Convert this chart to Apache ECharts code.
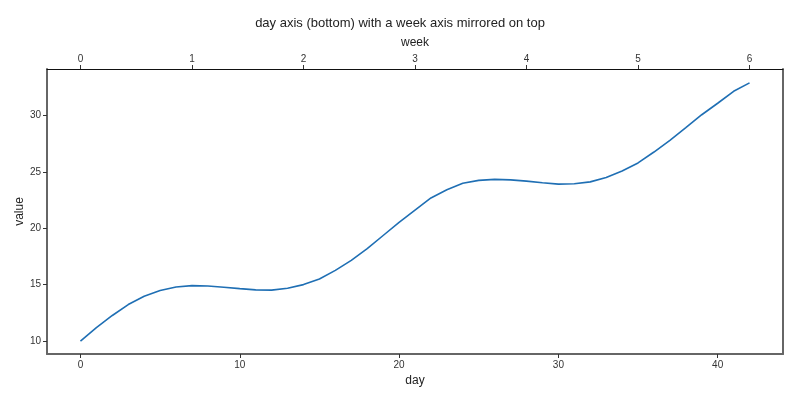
<!DOCTYPE html>
<html>
<head>
<meta charset="utf-8">
<script src="https://cdn.jsdelivr.net/npm/echarts@6/dist/echarts.min.js"></script>
<style>
  html, body { margin: 0; padding: 0; background: #fff; }
  #chart { width: 800px; height: 400px; }
</style>
</head>
<body>
<div id="chart"></div>
<script>
// values, one per day (0..42)
var days = [];
for (var i = 0; i <= 42; i++) days.push(i);
var values = [
  10.0, 11.2, 12.27, 13.24, 13.98, 14.48, 14.8, 14.92, 14.89, 14.77,
  14.65, 14.54, 14.52, 14.68, 15.01, 15.51, 16.27, 17.16, 18.2, 19.37,
  20.54, 21.63, 22.7, 23.43, 24.0, 24.26, 24.35, 24.31, 24.2, 24.05,
  23.93, 23.96, 24.13, 24.52, 25.1, 25.81, 26.78, 27.82, 28.94, 30.09,
  31.11, 32.17, 32.92
];
var dayTicks = [0, 10, 20, 30, 40];
var weekTicks = [0, 1, 2, 3, 4, 5, 6];
var valueTicks = [10, 15, 20, 25, 30];

var font = 'Liberation Sans';
var chart = echarts.init(document.getElementById('chart'), null, {renderer: 'canvas'});

var points = days.map(function (d, k) { return [d, values[k]]; });

var option = {
    animation: false,
    backgroundColor: '#fff',
    textStyle: {fontFamily: font},
    title: {
        text: 'day axis (bottom) with a week axis mirrored on top',
        left: 'center',
        top: 12,
        textStyle: {fontSize: 13, fontWeight: 'normal', color: '#222', fontFamily: font}
    },
    grid: {left: 47, right: 17, top: 69, bottom: 46, containLabel: false},
    xAxis: [{
        type: 'value',
        position: 'bottom',
        min: -2.1,
        max: 44.1,
        name: 'day',
        nameLocation: 'middle',
        nameGap: 21,
        nameTextStyle: {fontSize: 12, color: '#222'},
        axisLine: {show: true, onZero: false, lineStyle: {color: '#666', width: 2}},
        axisTick: {show: true, length: 4, customValues: dayTicks, lineStyle: {color: '#333'}},
        axisLabel: {customValues: dayTicks, fontSize: 10, color: '#333', margin: 6},
        splitLine: {show: false}
    }, {
        type: 'value',
        position: 'top',
        min: -0.3,
        max: 6.3,
        name: 'week',
        nameLocation: 'middle',
        nameGap: 19,
        nameTextStyle: {fontSize: 12, color: '#222'},
        axisLine: {show: true, onZero: false, lineStyle: {color: '#111', width: 1}},
        axisTick: {show: true, length: 4, customValues: weekTicks, lineStyle: {color: '#333'}},
        axisLabel: {customValues: weekTicks, fontSize: 10, color: '#333', margin: 5},
        splitLine: {show: false}
    }],
    yAxis: [{
        type: 'value',
        position: 'left',
        min: 8.85,
        max: 34.15,
        name: 'value',
        nameLocation: 'middle',
        nameGap: 21,
        nameMoveOverlap: false,
        nameRotate: 90,
        nameTextStyle: {fontSize: 12, color: '#222'},
        axisLine: {show: true, onZero: false, lineStyle: {color: '#666', width: 2}},
        axisTick: {show: true, length: 4, customValues: valueTicks, lineStyle: {color: '#333'}},
        axisLabel: {customValues: valueTicks, fontSize: 10, color: '#333', margin: 6},
        splitLine: {show: false}
    }, {
        type: 'value',
        position: 'right',
        min: 8.85,
        max: 34.15,
        axisLine: {show: true, onZero: false, lineStyle: {color: '#666', width: 2}},
        axisTick: {show: false},
        axisLabel: {show: false},
        splitLine: {show: false}
    }],
    series: [{
        type: 'line',
        xAxisIndex: 0,
        yAxisIndex: 0,
        data: points,
        showSymbol: false,
        smooth: false,
        lineStyle: {color: '#1f6fb4', width: 1.6},
        itemStyle: {color: '#1f6fb4'}
    }]
};

chart.setOption(option);
</script>
</body>
</html>
